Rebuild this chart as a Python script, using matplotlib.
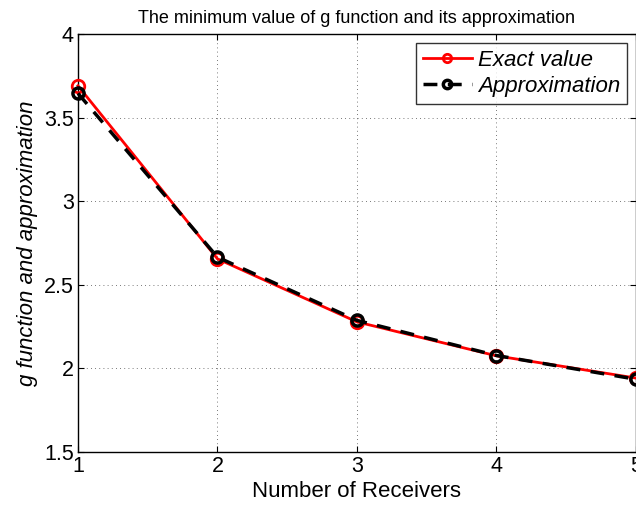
import numpy as np
import matplotlib
matplotlib.use("Agg")
import matplotlib.pyplot as plt

receivers = [1, 2, 3, 4, 5]
exact_value = [3.69, 2.655, 2.278, 2.075, 1.942]
approximation = [3.645, 2.665, 2.287, 2.077, 1.935]

plt.rcParams['font.family'] = ['Liberation Sans', 'DejaVu Sans']

fig = plt.figure(figsize=(6.36, 5.11), dpi=100)
ax = fig.add_axes([0.1226, 0.1155, 0.8774, 0.818])

ax.plot(receivers, exact_value, '-o', color='red', linewidth=2, markersize=9,
        markerfacecolor='none', markeredgewidth=2, label='Exact value', clip_on=False, zorder=3)
ax.plot(receivers, approximation, '--o', color='black', linewidth=2.5, markersize=8,
        markerfacecolor='none', markeredgewidth=2.5, dashes=(4, 3), label='Approximation',
        clip_on=False, zorder=4)

ax.set_xlim(1, 5)
ax.set_ylim(1.5, 4)
ax.set_xticks([1, 2, 3, 4, 5])
ax.set_yticks([1.5, 2, 2.5, 3, 3.5, 4])
ax.set_yticklabels(['1.5', '2', '2.5', '3', '3.5', '4'])
ax.tick_params(direction='in', labelsize=15.5, length=4, top=True, right=True, pad=3)
ax.grid(True, linestyle=(0, (1, 4)), color='black', linewidth=0.6, alpha=0.7)
for s in ax.spines.values():
    s.set_linewidth(1.0)

ax.set_title('The minimum value of g function and its approximation', fontsize=13, pad=8)
ax.set_xlabel('Number of Receivers', fontsize=16, labelpad=3)
ax.set_ylabel('g function and approximation', fontsize=16, style='italic', labelpad=4)

leg = ax.legend(loc='upper right', prop={'style': 'italic', 'size': 16},
                frameon=True, fancybox=False, edgecolor='black', borderaxespad=0.4,
                handlelength=2.2, handletextpad=0.3, borderpad=0.3, labelspacing=0.25)
leg.get_frame().set_linewidth(1.0)
for h in leg.legend_handles:
    h.set_markersize(6)

fig.savefig('out.png', dpi=100)
